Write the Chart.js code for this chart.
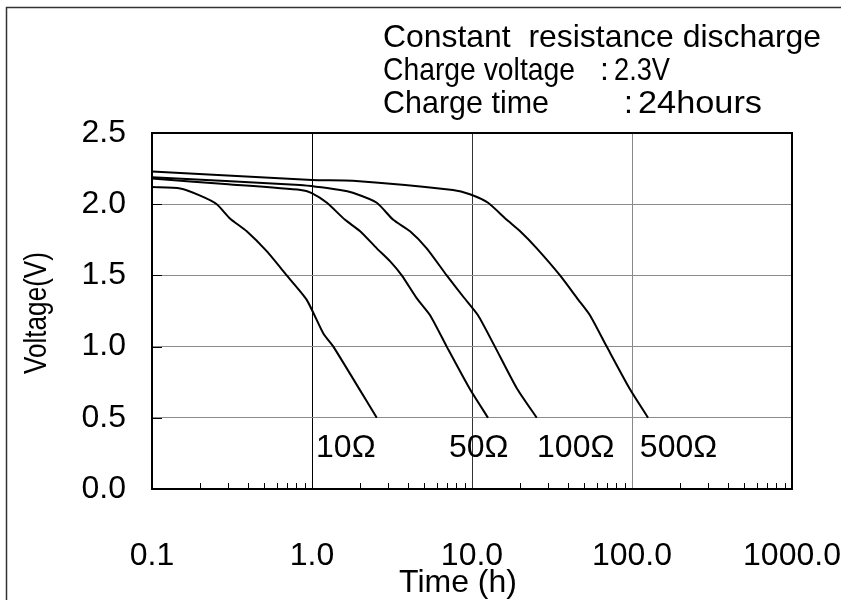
<!DOCTYPE html>
<html>
<head>
<meta charset="utf-8">
<script src="https://cdn.jsdelivr.net/npm/chart.js@4/dist/chart.umd.min.js"></script>
<style>
  html, body { margin: 0; padding: 0; background: #fff; }
</style>
</head>
<body>
<canvas id="chart" width="841" height="600"></canvas>
<script>
const FONT = "'Liberation Sans', Arial, sans-serif";
const SIZE = 32;

// discharge curves, time in hours / voltage in V
const time10 = [0.1, 0.15, 0.2, 0.254, 0.307, 0.391, 0.521, 0.695, 0.925, 1.18, 1.36, 2.54];
const volt10 = [2.12, 2.11, 2.06, 2.00, 1.90, 1.81, 1.67, 1.50, 1.33, 1.09, 1.00, 0.50];

const time50 = [0.1, 0.3, 0.85, 0.99, 1.24, 1.61, 2.0, 2.54, 3.07, 3.64, 4.51, 5.47, 6.95, 9.72, 12.6];
const volt50 = [2.18, 2.14, 2.10, 2.08, 2.01, 1.89, 1.81, 1.69, 1.60, 1.50, 1.34, 1.22, 1.00, 0.70, 0.50];

const time100 = [0.1, 0.84, 1.50, 1.80, 2.54, 3.22, 4.10, 5.21, 6.95, 8.82, 10.9, 13.9, 19.0, 25.4];
const volt100 = [2.19, 2.135, 2.10, 2.08, 2.01, 1.89, 1.81, 1.69, 1.50, 1.35, 1.22, 1.00, 0.71, 0.50];

const time500 = [0.1, 1.0, 1.8, 7.6, 9.7, 12.6, 16.5, 20.0, 25.4, 35.5, 46.1, 54.6, 69.5, 97.2, 126];
const volt500 = [2.23, 2.17, 2.165, 2.10, 2.07, 2.01, 1.89, 1.81, 1.69, 1.50, 1.33, 1.22, 1.00, 0.70, 0.50];

const curveNames = ['10Ω', '50Ω', '100Ω', '500Ω'];
const nameTime = [1.06, 7.18, 25.5, 112];
const nameVolt = 0.29;

const xTickValues = [0.1, 1, 10, 100, 1000];
const xTickLabels = ['0.1', '1.0', '10.0', '100.0', '1000.0'];

const xTitle = 'Time (h)';
const yTitle = 'Voltage(V)';
const noteTitle = 'Constant  resistance discharge';
const noteVoltage = ['Charge voltage', ':', '2.3V'];
const noteTime = ['Charge time', ':', '24hours'];

function pts(xs, ys) {
  return xs.map((t, i) => ({ x: t, y: ys[i] }));
}

// draw text squeezed/stretched horizontally to a given width
function fitText(ctx, text, x, y, w, rot) {
  const nat = ctx.measureText(text).width;
  const s = w ? w / nat : 1;
  ctx.save();
  ctx.translate(x, y);
  if (rot) ctx.rotate(rot);
  ctx.scale(s, 1);
  ctx.fillText(text, 0, 0);
  ctx.restore();
}

const series = [[time10, volt10], [time50, volt50], [time100, volt100], [time500, volt500]];

// frame, minor ticks, titles, curve names and the note block
const decor = {
  id: 'decor',
  afterDraw(chart) {
    const { ctx, chartArea: a, scales: { x, y } } = chart;
    ctx.save();

    ctx.strokeStyle = '#000';
    ctx.lineWidth = 1;
    ctx.beginPath();
    for (let d = 0.1; d < 999; d *= 10) {
      for (let k = 2; k <= 9; k++) {
        const px = Math.round(x.getPixelForValue(d * k)) + 0.5;
        ctx.moveTo(px, a.bottom);
        ctx.lineTo(px, a.bottom - 6);
      }
    }
    [0.5, 1.0, 1.5, 2.0].forEach(v => {
      const py = Math.round(y.getPixelForValue(v)) + 0.5;
      ctx.moveTo(a.left, py);
      ctx.lineTo(a.left + 10, py);
    });
    ctx.stroke();

    ctx.lineWidth = 2;
    ctx.strokeRect(a.left, a.top, a.right - a.left, a.bottom - a.top);

    // outer border of the figure
    ctx.strokeStyle = '#333';
    ctx.lineWidth = 1.5;
    ctx.beginPath();
    ctx.moveTo(6.5, 600);
    ctx.lineTo(6.5, 7.5);
    ctx.lineTo(841, 7.5);
    ctx.stroke();

    ctx.fillStyle = '#000';
    ctx.font = SIZE + 'px ' + FONT;
    ctx.textBaseline = 'middle';
    ctx.textAlign = 'left';
    curveNames.forEach((n, i) => {
      ctx.fillText(n, x.getPixelForValue(nameTime[i]), y.getPixelForValue(nameVolt));
    });

    fitText(ctx, noteTitle, 383, 38, 438);
    fitText(ctx, noteVoltage[0], 383, 71, 192);
    ctx.fillText(noteVoltage[1], 600, 71);
    fitText(ctx, noteVoltage[2], 614, 71, 56);
    fitText(ctx, noteTime[0], 383, 104, 166);
    ctx.fillText(noteTime[1], 624, 104);
    fitText(ctx, noteTime[2], 638, 104, 124);

    ctx.textAlign = 'center';
    ctx.fillText(xTitle, 458, 583);
    fitText(ctx, yTitle, 37, 313, 122, -Math.PI / 2);

    ctx.restore();
  }
};

new Chart(document.getElementById('chart'), {
  type: 'line',
  data: {
    datasets: series.map((s, i) => ({
      label: curveNames[i],
      data: pts(s[0], s[1]),
      borderColor: '#000',
      borderWidth: 2,
      pointRadius: 0,
      fill: false,
      tension: 0.2
    }))
  },
  options: {
    responsive: false,
    animation: false,
    layout: { padding: { top: 133, right: 0, left: 0, bottom: 0 } },
    plugins: {
      legend: { display: false },
      tooltip: { enabled: false }
    },
    scales: {
      x: {
        type: 'logarithmic',
        min: 0.1,
        max: 1000,
        afterBuildTicks: s => { s.ticks = xTickValues.map(v => ({ value: v })); },
        afterFit: s => {
          s.height = 111;
          s.paddingLeft = 0;
          s.paddingRight = 49;
        },
        ticks: {
          autoSkip: false,
          maxRotation: 0,
          padding: 48,
          color: '#000',
          font: { family: FONT, size: SIZE },
          callback: (v, i) => xTickLabels[i]
        },
        grid: {
          drawTicks: false,
          lineWidth: 1,
          color: c => {
            const v = c.tick && c.tick.value;
            if (v === 1) return '#000';
            if (v === 10) return '#333';
            if (v === 100) return '#888';
            return 'rgba(0,0,0,0)';
          }
        },
        border: { display: false }
      },
      y: {
        min: 0,
        max: 2.5,
        afterFit: s => { s.width = 152; },
        ticks: {
          stepSize: 0.5,
          padding: 26,
          color: '#000',
          font: { family: FONT, size: SIZE },
          callback: v => v.toFixed(1)
        },
        grid: { drawTicks: false, color: '#8c8c8c', lineWidth: 1 },
        border: { display: false }
      }
    }
  },
  plugins: [decor]
});
</script>
</body>
</html>
